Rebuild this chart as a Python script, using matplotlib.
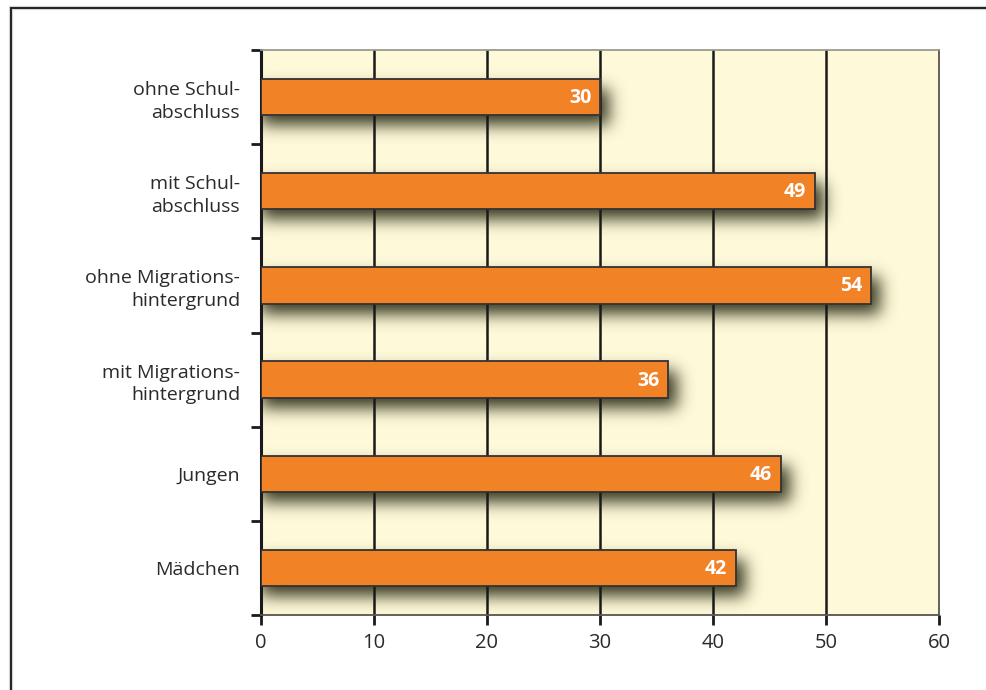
import matplotlib
matplotlib.use("Agg")
import matplotlib.pyplot as plt
from matplotlib.patches import Rectangle
import numpy as np

categories = ["ohne Schul-\nabschluss", "mit Schul-\nabschluss", "ohne Migrations-\nhintergrund",
              "mit Migrations-\nhintergrund", "Jungen", "Mädchen"]
values = [30, 49, 54, 36, 46, 42]
xticks = [0, 10, 20, 30, 40, 50, 60]

plt.rcParams['font.family'] = ['Open Sans', 'DejaVu Sans']

fig = plt.figure(figsize=(9.86, 6.9), dpi=100)
fig.patch.set_facecolor("white")

# outer frame
fig.add_artist(Rectangle((11/986, -0.1), 1.2, 1 - 8/690 + 0.1, transform=fig.transFigure,
                         fill=False, edgecolor="#d5d5d5", linewidth=3.0, zorder=0))
fig.add_artist(Rectangle((11/986, -0.1), 1.2, 1 - 8/690 + 0.1, transform=fig.transFigure,
                         fill=False, edgecolor="#222222", linewidth=1.4, zorder=1))

AW, AH = 678, 565
ax = fig.add_axes([261/986, 1 - 615/690, AW/986, AH/690])
ax.set_facecolor("#FEF9D8")
n = len(categories)
ys = list(range(n))
xmax = 60

for x in xticks[1:-1]:
    ax.axvline(x, color="#1a1a1a", linewidth=1.8, zorder=2.5)

h = 0.385

# soft blurred drop shadow
mask = np.zeros((AH, AW))
dx, dy = 9, 10
cat_px = AH / n
for i, v in enumerate(values):
    yc = (i + 0.5) * cat_px
    y0 = int(round(yc - h / 2 * cat_px + dy))
    y1 = int(round(yc + h / 2 * cat_px + dy))
    x1 = int(round(v * AW / xmax + dx))
    mask[y0:y1, 0:x1] = 1.0
sigma = 8.0
r = int(3 * sigma)
k = np.exp(-0.5 * (np.arange(-r, r + 1) / sigma) ** 2)
k /= k.sum()
mask = np.apply_along_axis(lambda m: np.convolve(m, k, mode="same"), 0, mask)
mask = np.apply_along_axis(lambda m: np.convolve(m, k, mode="same"), 1, mask)
rgba = np.zeros((AH, AW, 4))
rgba[..., 0] = 0.22
rgba[..., 1] = 0.22
rgba[..., 2] = 0.13
rgba[..., 3] = np.clip(mask * 1.0, 0, 1)
ax.imshow(rgba, extent=(0, xmax, n - 0.5, -0.5), aspect="auto", zorder=2,
          interpolation="bilinear")
ax.set_xlim(0, xmax)
ax.set_ylim(n - 0.5, -0.5)

ax.barh(ys, values, height=h, color="#F28226", edgecolor="#333333", linewidth=1.3, zorder=3)
for i, v in enumerate(values):
    ax.text(v - 0.75, i + 0.01, str(v), ha="right", va="center", color="white",
            fontsize=14, fontweight="bold", zorder=4)

ax.set_yticks(ys)
ax.set_yticklabels(categories, fontsize=14, color="#2a2a2a", linespacing=1.35)
ax.set_yticks([i + 0.5 for i in range(-1, n)], minor=True)
ax.tick_params(axis="y", which="major", length=0, pad=15)
ax.tick_params(axis="y", which="minor", length=7, width=2, color="#1a1a1a", direction="out")
ax.set_xticks(xticks)
ax.set_xticklabels([str(t) for t in xticks], fontsize=14.5, color="#2a2a2a")
ax.tick_params(axis="x", length=7, width=2, color="#1a1a1a", direction="out", pad=6)

ax.spines["left"].set_color("#1a1a1a")
ax.spines["left"].set_linewidth(2.2)
ax.spines["bottom"].set_color("#55554a")
ax.spines["bottom"].set_linewidth(1.3)
ax.spines["top"].set_color("#9a9a90")
ax.spines["top"].set_linewidth(1.3)
ax.spines["right"].set_color("#55554a")
ax.spines["right"].set_linewidth(1.3)

fig.savefig("out.png", dpi=100, facecolor="white")
